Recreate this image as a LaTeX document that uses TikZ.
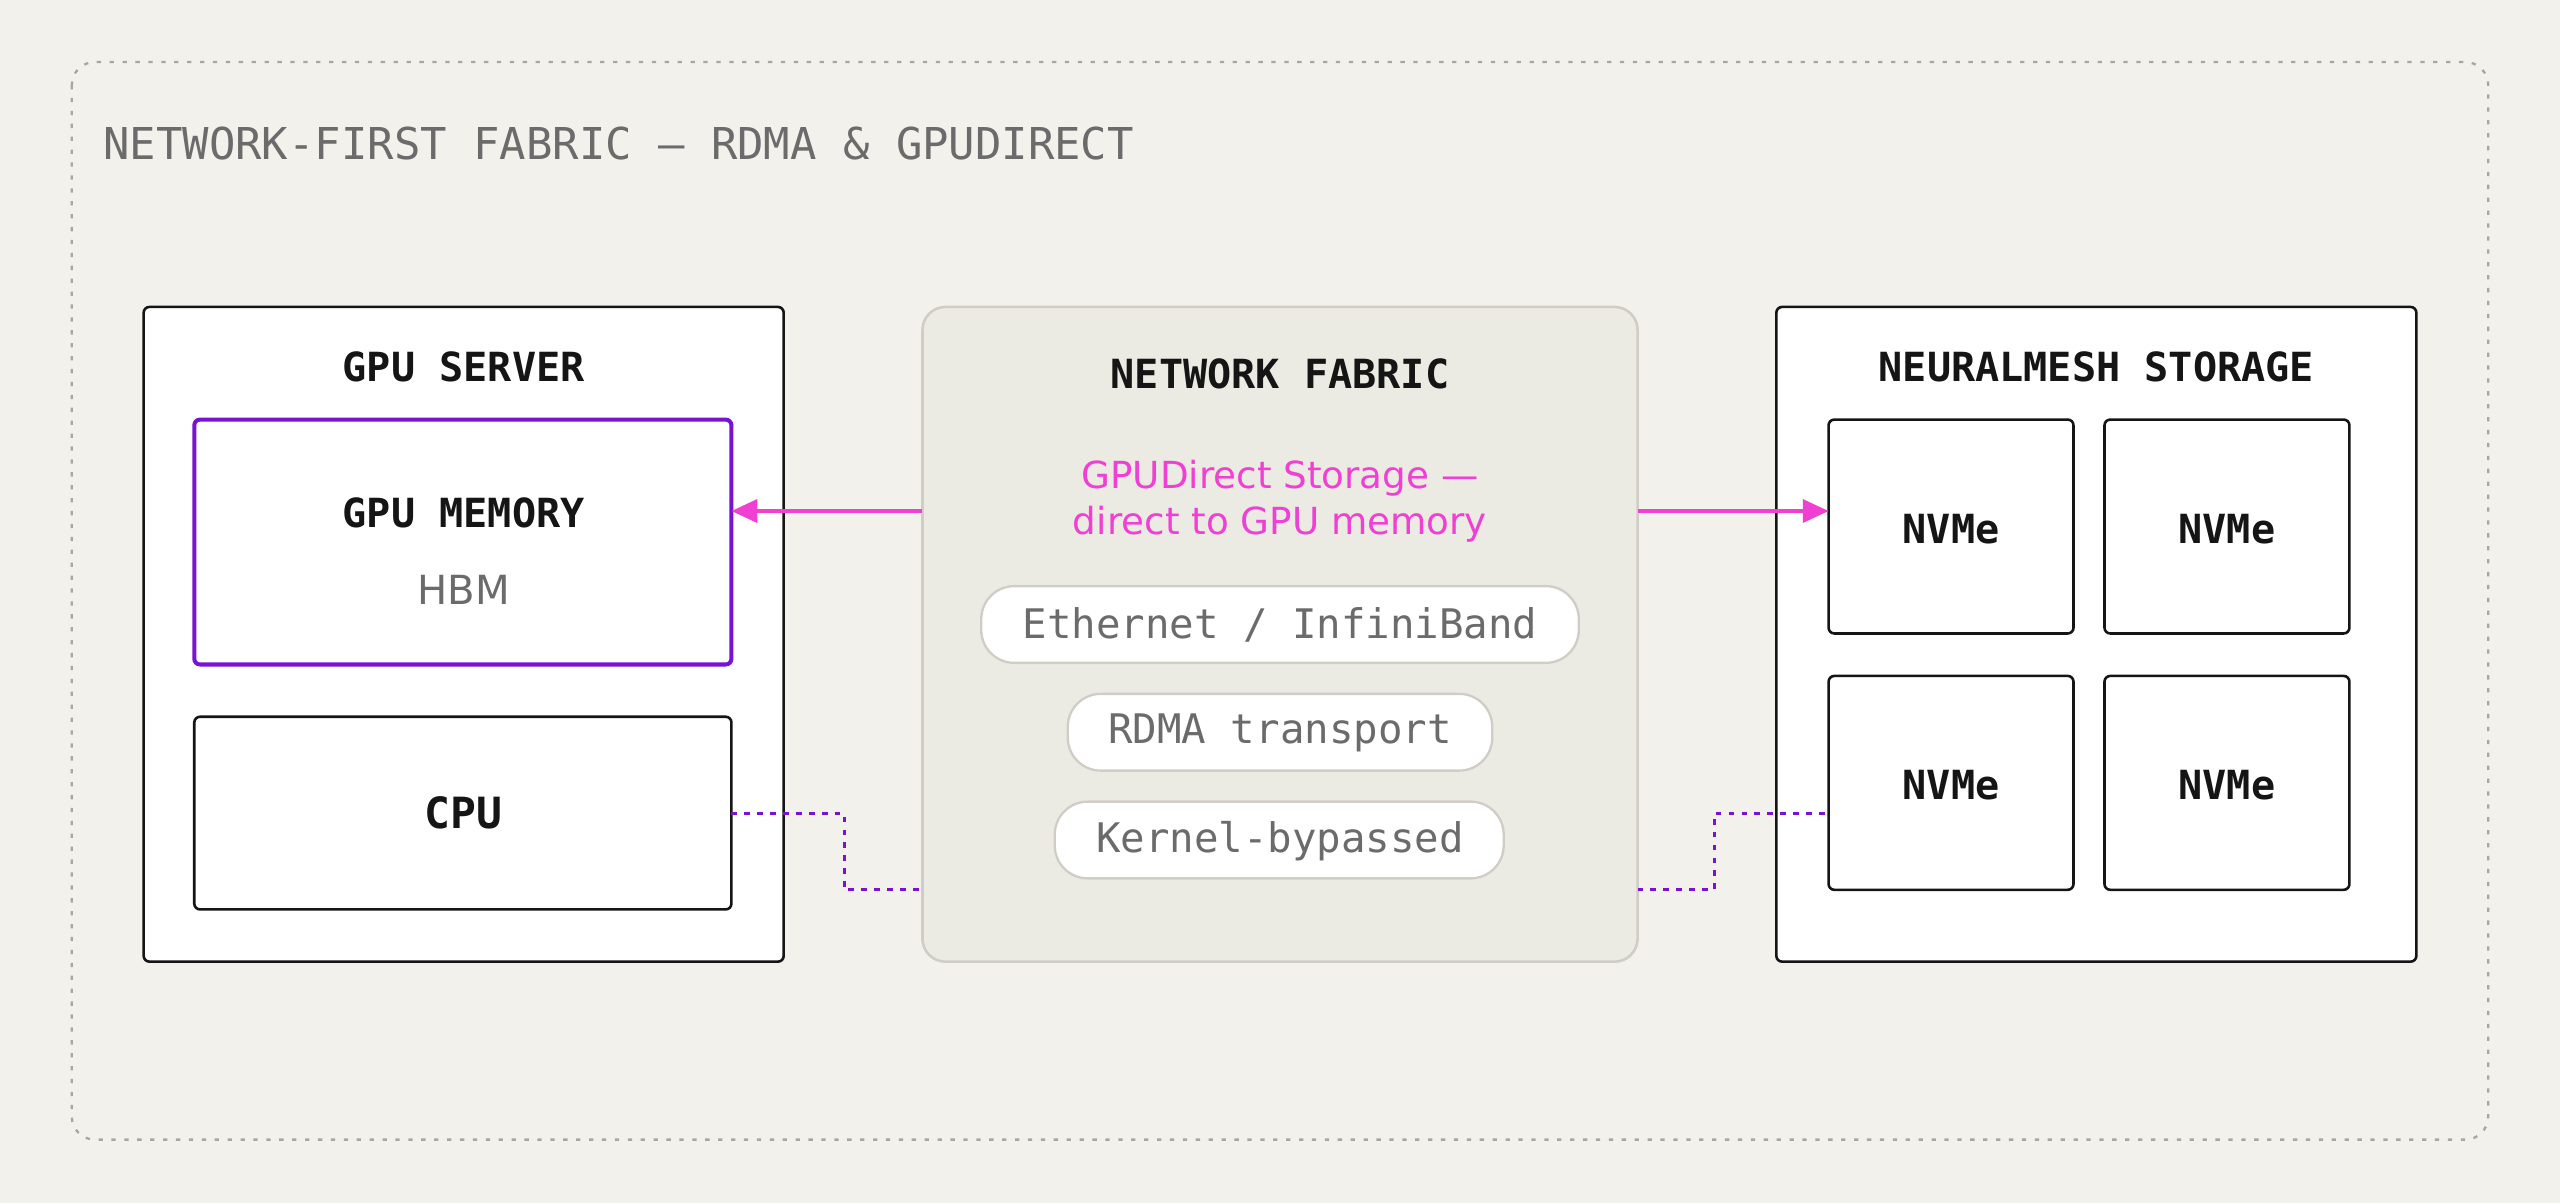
\documentclass[tikz,border=0pt]{standalone}
\usepackage{fontspec}
\setmainfont{DejaVu Sans}
\newfontfamily\mono{DejaVu Sans Mono}
\usetikzlibrary{arrows.meta,calc}
\definecolor{bg}{HTML}{F2F1EC}
\definecolor{pinkc}{HTML}{F040D4}
\definecolor{purp}{HTML}{7A12D2}
\definecolor{fabfill}{HTML}{ECEBE3}
\definecolor{fabline}{HTML}{CFCDC5}
\definecolor{greyt}{HTML}{6B6B6B}
\definecolor{ink}{HTML}{151515}
\begin{document}
\begin{tikzpicture}[x=0.02cm,y=-0.02cm,
  box/.style={draw=ink,line width=0.9pt,fill=white,rounded corners=2pt},
  ttl/.style={font=\mono\bfseries\fontsize{14}{16}\selectfont,text=ink},
  pill/.style={draw=fabline,line width=0.8pt,fill=white,rounded corners=11.5pt},
  ptxt/.style={font=\mono\fontsize{14.2}{16}\selectfont,text=greyt},
  link/.style={pinkc,line width=1.3pt,-{Triangle[length=9pt,width=8pt]}},
  dot/.style={purp,line width=1pt,dash pattern=on 2pt off 2.5pt}]
\useasboundingbox[fill=bg] (0,0) rectangle (1568,737);
\draw[greyt!60,line width=0.8pt,dash pattern=on 1.5pt off 3pt,rounded corners=8pt] (44,38) rectangle (1524,698);
\node[anchor=west,inner sep=0pt,font=\mono\fontsize{15.3}{18}\selectfont,text=greyt] (title) at (63,88) {NETWORK-FIRST FABRIC — RDMA \& GPUDIRECT};
% GPU server
\draw[box] (88,188) rectangle (480,589);
\node[ttl] (gs) at (284,225) {GPU SERVER};
\draw[purp,line width=1.4pt,fill=white,rounded corners=2pt] (119,257) rectangle (448,407);
\node[ttl] (gmt) at (284,314) {GPU MEMORY};
\node[font=\fontsize{14}{16}\selectfont,text=greyt] (hbm) at (284,361) {HBM};
\draw[box] (119,439) rectangle (448,557);
\node[ttl,font=\mono\bfseries\fontsize{15}{17}\selectfont] (cput) at (284,498) {CPU};
\coordinate (gmE) at (448,313);
\coordinate (cpuE) at (448,498);
% fabric
\draw[fabline,line width=0.9pt,fill=fabfill,rounded corners=8pt] (565,188) rectangle (1003,589);
\node[ttl] (ft) at (784,229) {NETWORK FABRIC};
\node[text=pinkc,font=\fontsize{13}{16}\selectfont,align=center] (gds) at (784,307) {GPUDirect Storage —\\direct to GPU memory};
\draw[pill] (601,359) rectangle (967,406); \node[ptxt] (p1) at (784,383) {Ethernet / InfiniBand};
\draw[pill] (654,425) rectangle (914,472); \node[ptxt] (p2) at (784,449) {RDMA transport};
\draw[pill] (646,491) rectangle (921,538); \node[ptxt] (p3) at (784,515) {Kernel-bypassed};
\coordinate (fW) at (565,313); \coordinate (fE) at (1003,313);
\coordinate (fWb) at (565,545); \coordinate (fEb) at (1003,545);
% storage
\draw[box] (1088,188) rectangle (1480,589);
\node[ttl] (st) at (1284,225) {NEURALMESH STORAGE};
\foreach \x/\y/\n in {1120/257/a,1289/257/b,1120/414/c,1289/414/d}{
  \draw[box] (\x,\y) rectangle ++(150,131);
  \node[ttl] (nv\n) at (\x+75,\y+67) {NVMe};
}
\coordinate (nW) at (1120,313); \coordinate (nWb) at (1120,498);
% connectors
\draw[link] (fW) -- (gmE);
\draw[link] (fE) -- (nW);
\draw[dot] (cpuE) -- (517,498) -- (517,545) -- (fWb);
\draw[dot] (fEb) -- (1050,545) -- (1050,498) -- (nWb);
\end{tikzpicture}
\end{document}
